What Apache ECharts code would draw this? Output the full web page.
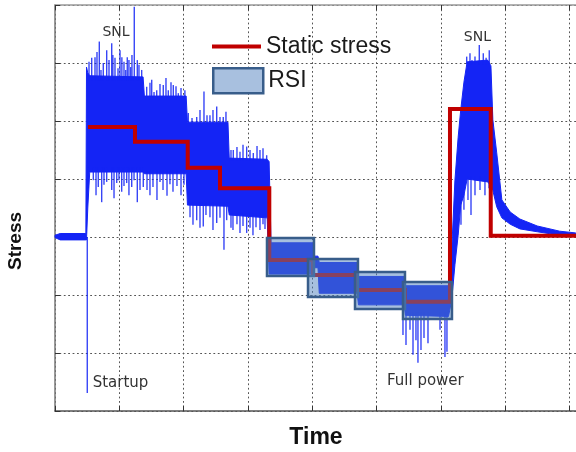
<!DOCTYPE html>
<html><head><meta charset="utf-8">
<script src="https://cdn.jsdelivr.net/npm/echarts@6/dist/echarts.min.js"></script>
<style>html,body{margin:0;padding:0;background:#fff}#c{width:576px;height:452px}</style>
</head><body><div id="c"></div>
<script>
// Measured stress signal: core envelope (time, upper, lower)
const sigX      = [0,   0.8, 4.8, 4.9, 5.1, 5.4, 13.7, 13.9, 20.4, 20.6, 26.9, 27.1, 33.0, 33.3, 33.6, 40.1, 40.3, 40.9, 41.1, 47.0, 47.2, 54.3, 54.5, 61.2, 61.7, 62.2, 62.7, 63.1, 63.6, 64.1, 67.3, 67.8, 68.1, 68.7, 69.5, 70.8, 72.3, 75.0, 78.5, 81.0];
const sigTop    = [30.3,30.6,30.6,59.3,58.3,57.8, 57.6, 54.3, 54.3, 49.8, 49.8, 43.6, 43.4, 43.0, 29.0, 29.0, 26.7, 26.7, 25.6, 25.6, 23.2, 23.2, 21.6, 21.6, 27.8, 39.8, 47.2, 51.9, 56.7, 60.2, 60.5, 59.5, 50.2, 44.5, 36.4, 34.3, 33.1, 31.9, 31.0, 30.7];
const sigBottom = [29.9,29.5,29.5,29.5,35.0,41.2, 41.2, 40.9, 40.9, 35.5, 35.3, 33.8, 33.3, 23.6, 23.6, 23.6, 24.7, 24.7, 20.3, 20.3, 18.3, 18.3, 16.5, 16.3, 19.1, 25.2, 30.3, 35.5, 37.2, 40.0, 39.5, 38.8, 38.0, 35.2, 33.3, 32.2, 31.4, 30.9, 30.3, 30.2];
// Noise excursions of the signal: [time, low, high]
const noiseSpikes = [
 [5.02,3.1,30],
 [5.29,57,60.2],[5.71,57,60.9],[6.22,57,61.0],[6.53,57,61.9],[6.89,57,63.7],[7.15,57,58.8],[7.51,57,60.0],[8.04,57,62.2],[8.4,57,60.5],[8.82,57,63.4],[9.0,57,61.4],[9.33,57,60.9],[9.8,57,59.1],[10.11,57,62.2],[10.4,57,61.0],[10.73,57,60.2],[11.0,57,58.8],[11.24,57,61.0],[11.5,57,60.5],[11.77,57,59.3],[11.97,57,61.4],[12.33,57,69.7],[12.8,57,60.5],[13.06,57,59.7],[13.48,57,58.8],
 [5.18,38.4,42],[5.96,39.8,42],[6.38,37.2,42],[6.73,38.6,42],[7.26,36.0,42],[7.62,39.0,42],[8.04,39.5,42],[8.82,38.1,42],[9.18,36.7,42],[9.6,39.3,42],[9.95,39.8,42],[10.37,37.8,42],[10.73,38.8,42],[11.15,39.3,42],[11.5,37.2,42],[11.93,38.6,42],[12.29,39.8,42],[12.8,36.0,42],[13.22,38.1,42],[13.73,38.6,42],
 [14.26,54,55.9],[14.77,54,56.6],[15.04,54,57.1],[15.4,54,55.0],[15.82,54,55.3],[16.33,54,56.4],[16.84,54,56.2],[17.26,54,57.4],[17.62,54,55.3],[18.04,54,56.7],[18.4,54,56.2],[18.82,54,56.0],[19.18,54,54.8],[19.6,54,55.7],[20.2,54,55.3],
 [14.31,38.1,41.5],[14.77,37.2,41.5],[15.24,38.6,41.5],[15.86,36.4,41.5],[16.33,39.5,41.5],[16.8,38.1,41.5],[17.42,37.1,41.5],[17.88,39.1,41.5],[18.35,37.8,41.5],[18.97,38.8,41.5],[19.6,37.2,41.5],[20.06,39.0,41.5],
 [20.73,49.5,51.4],[21.31,49.5,50.5],[22.04,49.5,50.7],[22.55,49.5,51.9],[23.17,49.5,55.1],[23.64,49.5,51.0],[24.1,49.5,51.0],[24.57,49.5,51.9],[25.15,49.5,52.5],[25.66,49.5,50.7],[26.17,49.5,50.7],[26.59,49.5,51.6],
 [21.0,33.4,36],[21.46,32.1,36],[22.04,32.9,36],[22.55,31.6,36],[23.06,31.8,36],[23.48,33.8,36],[24.1,33.4,36],[24.57,31.2,36],[25.15,32.4,36],[25.66,33.3,36],[26.28,27.8,36],[26.7,32.9,36],
 [27.37,43.2,45.0],[27.73,43.2,45.0],[28.3,43.2,45.5],[28.77,43.2,44.7],[29.24,43.2,45.9],[29.81,43.2,45.6],[30.33,43.2,45.0],[30.84,43.2,44.5],[31.42,43.2,45.7],[31.88,43.2,45.0],[32.35,43.2,45.3],[32.92,43.2,44.1],
 [27.37,31.6,34],[27.68,31.2,34],[28.3,32.2,34],[28.77,30.7,34],[29.24,31.9,34],[29.81,30.7,34],[30.33,31.6,34],[30.79,30.3,34],[31.26,31.7,34],[31.88,31.2,34],[32.35,32.2,34],[32.66,31.4,34],
 [54.12,13.1,17],[54.59,11.4,17],[55.21,14.0,17],[55.68,9.7,17],[56.14,12.2,17],[56.45,8.3,17],[56.92,10.5,17],[57.39,12.6,17],[58.01,11.7,17],[59.88,14.0,17],[60.65,9.3,17],[60.96,10.2,17],
 [64.03,59.8,61.1],[64.54,59.8,61.7],[64.85,59.8,60.5],[65.32,59.8,61.1],[65.99,59.8,63.1],[66.61,59.8,61.7],[67.05,59.8,60.9],[67.54,59.8,62.2],
 [63.14,32.1,36],[63.6,34.7,37.5],[64.23,36.4,40.5],[64.7,33.8,40.5],[65.32,37.2,40.5],[66.1,38.1,40.5],[66.87,37.2,40.5],[67.5,38.4,40]
];
// Static stress step line
const staticX = [5.13, 12.44, 12.44, 20.64, 20.64, 25.66, 25.66, 33.33, 33.33, 40.12, 40.12, 46.97, 46.97, 54.43, 54.43, 61.43, 61.43, 67.77, 67.77, 81.03];
const staticY = [48.97,48.97, 46.43, 46.43, 41.95, 41.95, 38.40, 38.40, 26.03, 26.03, 23.45, 23.45, 20.86, 20.86, 18.84, 18.84, 52.07, 52.07, 30.22, 30.22];
// RSI boxes
const rsiStart = [32.97, 39.35, 46.66, 54.12];
const rsiEnd   = [40.28, 47.12, 54.43, 61.74];
const rsiLow   = [23.28, 19.66, 17.59, 15.86];
const rsiHigh  = [29.83, 26.21, 23.97, 22.24];
// Annotations
const annoText = ['SNL', 'SNL', 'Startup', 'Full power'];
const annoX    = [9.49, 65.7, 10.19, 57.6];
const annoY    = [65.3, 64.5, 4.83, 5.17];

const BLUE = '#1424f5';
const chart = echarts.init(document.getElementById('c'));
const grid = {left: 55, top: 5, bottom: 41, right: 0};
const dotted = {show: true, lineStyle: {color: '#555', width: 1, type: [1.8, 2.6]}};
chart.setOption({
  animation: false,
  grid: grid,
  legend: [
    {data: ['Static stress'], left: 212, top: 35, icon: 'rect', itemWidth: 49, itemHeight: 4, itemGap: 0, padding: 0,
     textStyle: {fontSize: 23, fontFamily: 'Liberation Sans', color: '#1a1a1a'}, itemStyle: {color: '#c00000', borderWidth: 0}},
    {data: ['RSI'], left: 212, top: 67, icon: 'rect', itemWidth: 50, itemHeight: 25, itemGap: 0, padding: 0,
     textStyle: {fontSize: 23, fontFamily: 'Liberation Sans', color: '#1a1a1a'}, itemStyle: {color: '#a8c0df', borderColor: '#385D8A', borderWidth: 2.5}}
  ],
  xAxis: [
    {type: 'value', min: 0, max: 81.03, interval: 10, position: 'bottom',
     axisLine: {onZero: false, lineStyle: {color: '#555', width: 1.5}},
     axisTick: {inside: true, length: 5, lineStyle: {color: '#333'}},
     axisLabel: {show: false}, splitLine: dotted},
    {type: 'value', min: 0, max: 81.03, interval: 10, position: 'top',
     axisLine: {onZero: false, lineStyle: {color: '#999', width: 1.5}},
     axisTick: {inside: true, length: 5, lineStyle: {color: '#333'}},
     axisLabel: {show: false}, splitLine: {show: false}}
  ],
  yAxis: {type: 'value', min: 0, max: 70, interval: 10,
     axisLine: {show: true, onZero: false, lineStyle: {color: '#777', width: 1.5}},
     axisTick: {show: true, inside: true, length: 5, lineStyle: {color: '#333'}},
     axisLabel: {show: false}, splitLine: dotted},
  graphic: [
    {type: 'text', x: 316, y: 438, style: {text: 'Time', font: 'bold 23px "Liberation Sans"', fill: '#111', align: 'center', verticalAlign: 'middle'}},
    {type: 'text', x: 16, y: 241, rotation: Math.PI / 2, style: {text: 'Stress', font: 'bold 19px "Liberation Sans"', fill: '#111', align: 'center', verticalAlign: 'middle'}}
  ],
  series: [
    {type: 'custom', name: 'signal', z: 2, silent: true,
     data: [[sigX[0], sigTop[0]]],
     renderItem: function (params, api) {
       const pts = [];
       for (let i = 0; i < sigX.length; i++) pts.push(api.coord([sigX[i], sigTop[i]]));
       for (let i = sigX.length - 1; i >= 0; i--) pts.push(api.coord([sigX[i], sigBottom[i]]));
       return {type: 'polygon', shape: {points: pts}, style: {fill: BLUE, stroke: BLUE, lineWidth: 1}};
     }},
    {type: 'custom', name: 'noise', z: 2, silent: true,
     data: noiseSpikes, encode: {x: 0, y: [1, 2]},
     renderItem: function (params, api) {
       const a = api.coord([api.value(0), api.value(1)]);
       const b = api.coord([api.value(0), api.value(2)]);
       return {type: 'line', shape: {x1: a[0], y1: a[1], x2: b[0], y2: b[1]}, style: {stroke: BLUE, lineWidth: 1.4, opacity: 0.85}};
     }},
    {type: 'line', name: 'Static stress', z: 3, symbol: 'none',
     data: staticX.map((x, i) => [x, staticY[i]]),
     lineStyle: {color: '#c00000', width: 4, join: 'miter', cap: 'butt'},
     itemStyle: {color: '#c00000'}},
    {type: 'custom', name: 'RSI', z: 4,
     data: rsiStart.map((s, i) => [s, rsiEnd[i], rsiLow[i], rsiHigh[i]]),
     encode: {x: [0, 1], y: [2, 3]},
     itemStyle: {color: '#a8c0df', borderColor: '#385D8A', borderWidth: 2.5},
     renderItem: function (params, api) {
       const p0 = api.coord([api.value(0), api.value(3)]);
       const p1 = api.coord([api.value(1), api.value(2)]);
       return {type: 'rect', shape: {x: p0[0], y: p0[1], width: p1[0] - p0[0], height: p1[1] - p0[1]},
               style: {fill: 'rgba(79,129,189,0.5)', stroke: '#385D8A', lineWidth: 2.5}};
     }},
    {type: 'custom', name: 'notes', z: 5, silent: true,
     data: annoX.map((x, i) => [x, annoY[i], i]),
     renderItem: function (params, api) {
       const p = api.coord([api.value(0), api.value(1)]);
       const t = annoText[api.value(2)];
       return {type: 'text', x: p[0], y: p[1],
               style: {text: t, fill: '#333', fontSize: t === 'SNL' ? 14 : 15, fontFamily: 'DejaVu Sans', align: 'center', verticalAlign: 'middle'}};
     }}
  ]
});
</script></body></html>
